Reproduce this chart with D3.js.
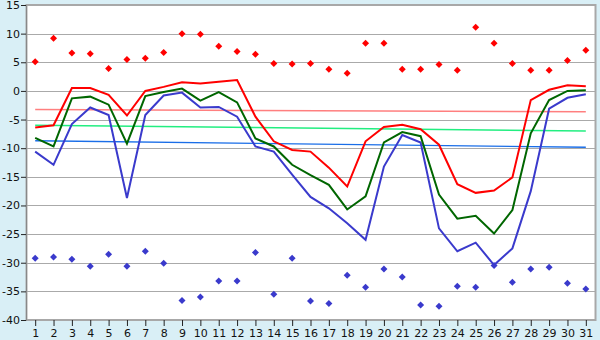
<!DOCTYPE html>
<html>
<head>
<meta charset="utf-8">
<script src="https://cdn.jsdelivr.net/npm/d3@7"></script>
<style>
  html, body { margin: 0; padding: 0; background: #d9eff6; }
  svg { display: block; }
  text { font-family: "DejaVu Sans", Verdana, sans-serif; font-size: 11px; fill: #111; }
</style>
</head>
<body>
<svg id="chart" width="600" height="340"></svg>
<script>
const days = d3.range(1, 32);
const yTicks = [15, 10, 5, 0, -5, -10, -15, -20, -25, -30, -35, -40];

const absMax = [5.1, 9.2, 6.6, 6.5, 3.9, 5.5, 5.7, 6.7, 10.0, 9.9, 7.8, 6.9, 6.4, 4.8, 4.7, 4.8,
  3.8, 3.1, 8.3, 8.3, 3.8, 3.8, 4.6, 3.6, 11.1, 8.3, 4.8, 3.6, 3.6, 5.3, 7.1];
const absMin = [-29.2, -29.0, -29.4, -30.6, -28.5, -30.6, -28.0, -30.1, -36.6, -36.0, -33.2, -33.2,
  -28.2, -35.5, -29.2, -36.7, -37.1, -32.2, -34.3, -31.1, -32.5, -37.4, -37.6, -34.1, -34.3,
  -30.5, -33.4, -31.1, -30.8, -33.6, -34.6];
const maxTemp = [-6.4, -6.0, 0.5, 0.5, -0.7, -4.3, 0.0, 0.7, 1.5, 1.3, 1.6, 1.9, -4.5, -8.8,
  -10.3, -10.6, -13.4, -16.7, -8.8, -6.3, -5.9, -6.7, -9.4, -16.3, -17.8, -17.4, -15.1, -1.6,
  0.2, 1.0, 0.8];
const meanTemp = [-8.2, -9.7, -1.3, -1.0, -2.4, -9.2, -0.9, -0.2, 0.4, -1.7, -0.2, -2.0, -8.3,
  -9.7, -12.9, -14.7, -16.4, -20.7, -18.4, -9.0, -7.2, -7.9, -18.1, -22.3, -21.8, -24.9, -20.8,
  -7.4, -1.6, 0.0, 0.1];
const minTemp = [-10.6, -12.9, -5.8, -2.9, -4.2, -18.7, -4.2, -0.8, -0.3, -2.9, -2.8, -4.5, -9.7,
  -10.6, -14.6, -18.5, -20.5, -23.1, -26.0, -13.2, -7.7, -9.0, -24.0, -28.0, -26.5, -30.4,
  -27.5, -17.5, -3.1, -1.2, -0.6];
const normMax = [-3.25, -3.65];
const normMean = [-6.0, -7.0];
const normMin = [-8.7, -9.85];

const svg = d3.select("#chart");
const L = 26, R = 595, T = 5, B = 320;

const x = d3.scalePoint().domain(days).range([L, R]).padding(0.5);
const y = d3.scaleLinear().domain([-40, 15]).range([B, T]);

svg.append("rect").attr("x", L).attr("y", T).attr("width", R - L).attr("height", B - T)
  .attr("fill", "#ffffff");

// grid
svg.append("g").selectAll("line").data(yTicks).join("line")
  .attr("x1", L).attr("x2", R)
  .attr("y1", d => Math.round(y(d)) + 0.5).attr("y2", d => Math.round(y(d)) + 0.5)
  .attr("stroke", "#aaaaaa").attr("stroke-width", 1);

// border
svg.append("rect").attr("x", L + 0.5).attr("y", T).attr("width", R - L).attr("height", B - T)
  .attr("fill", "none").attr("stroke", "#a8a8a8").attr("stroke-width", 2);

// axes
const yAxis = d3.axisLeft(y).tickValues(yTicks).tickSize(5).tickPadding(1)
  .tickFormat(d => String(d));
const gy = svg.append("g").attr("transform", `translate(${L},0)`).call(yAxis);
gy.select(".domain").attr("stroke", "#888");
gy.selectAll(".tick line").attr("stroke", "#222");
gy.selectAll("text").style("font-size", "11px").attr("fill", "#111");

const xAxis = d3.axisBottom(x).tickSize(6).tickPadding(3);
const gx = svg.append("g").attr("transform", `translate(0,${B})`).call(xAxis);
gx.select(".domain").remove();
gx.selectAll(".tick line").attr("stroke", "#222");
gx.selectAll("text").style("font-size", "11px").attr("fill", "#111");

// normal trend lines
const trends = [
  { v: normMax, c: "#ff7f7f" },
  { v: normMean, c: "#22ee80" },
  { v: normMin, c: "#1a6ee8" }
];
trends.forEach(t => {
  svg.append("line")
    .attr("x1", x(1)).attr("x2", x(31))
    .attr("y1", y(t.v[0])).attr("y2", y(t.v[1]))
    .attr("stroke", t.c).attr("stroke-width", 1.4);
});

const line = d3.line().x((d, i) => x(days[i])).y(d => y(d));
const series = [
  { v: minTemp, c: "#3a3acc" },
  { v: meanTemp, c: "#006600" },
  { v: maxTemp, c: "#ff0000" }
];
series.forEach(s => {
  svg.append("path").datum(s.v).attr("d", line)
    .attr("fill", "none").attr("stroke", s.c).attr("stroke-width", 2)
    .attr("stroke-linejoin", "miter");
});

const diamond = "M0,-3.5L3.5,0L0,3.5L-3.5,0Z";
svg.append("g").selectAll("path").data(absMax).join("path")
  .attr("d", diamond)
  .attr("transform", (d, i) => `translate(${x(days[i])},${y(d)})`)
  .attr("fill", "#ff0000");
svg.append("g").selectAll("path").data(absMin).join("path")
  .attr("d", diamond)
  .attr("transform", (d, i) => `translate(${x(days[i])},${y(d)})`)
  .attr("fill", "#3a3acc");
</script>
</body>
</html>
